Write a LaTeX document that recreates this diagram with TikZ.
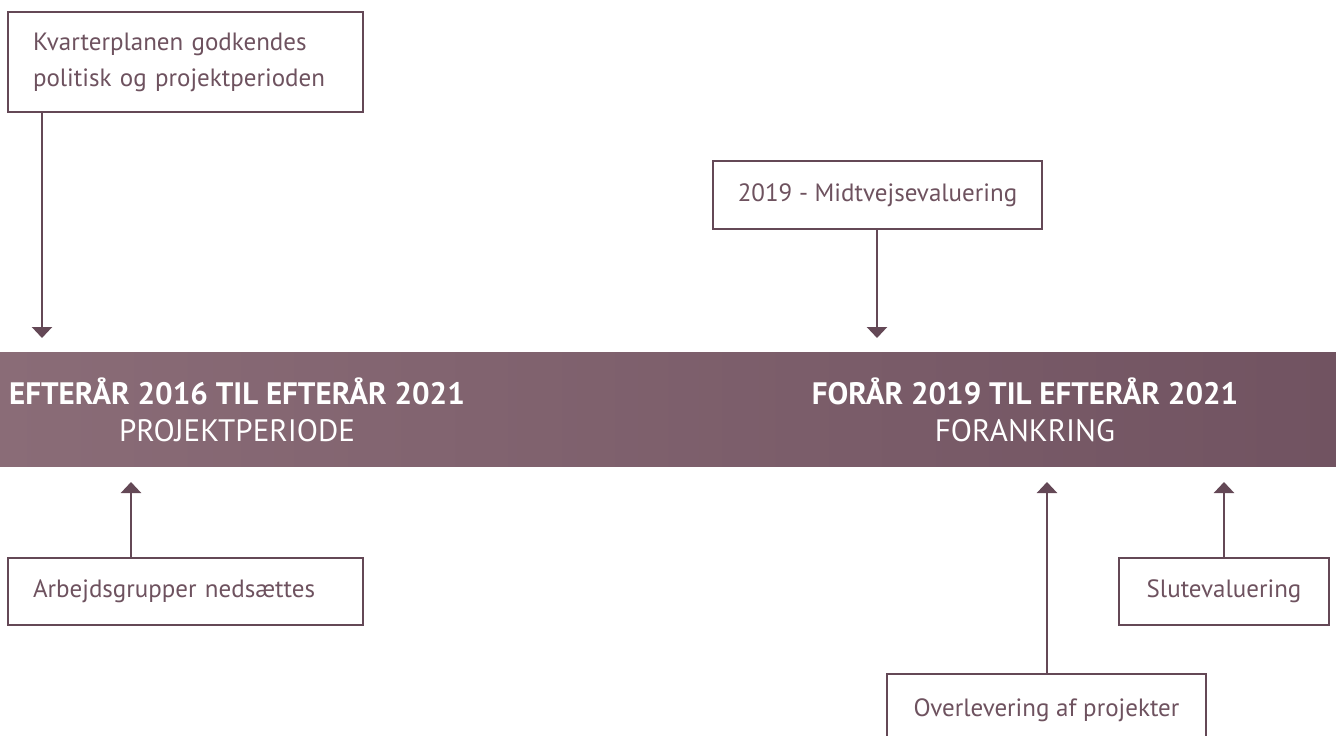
\documentclass[tikz,border=0pt]{standalone}
\usepackage{fontspec}
\setmainfont{PT Sans}
\usetikzlibrary{arrows.meta}
\definecolor{mauve}{RGB}{100,72,86}
\definecolor{txt}{RGB}{110,82,95}
\definecolor{bandL}{RGB}{138,108,119}
\definecolor{bandR}{RGB}{113,83,97}
\tikzset{
  box/.style={draw=mauve, line width=1.6pt, fill=white, inner sep=0pt, font=\fontsize{25}{36}\selectfont, text=txt},
  arr/.style={draw=mauve, line width=2.4pt, -{Triangle[width=20pt,length=11pt]}},
  bold/.style={font=\fontsize{31}{33}\selectfont\bfseries, text=white, inner sep=0pt},
  reg/.style={font=\fontsize{31}{33}\selectfont, text=white, inner sep=0pt}
}
\begin{document}
\begin{tikzpicture}[x=1pt,y=-1pt]
\useasboundingbox (0,0) rectangle (1336,736);
\clip (0,0) rectangle (1336,736);
% band
\node[rectangle, minimum width=1336pt, minimum height=114pt, inner sep=0pt, left color=bandL, right color=bandR, draw=none] (band) at (668,409) {};
\node[bold] (t1) at (237,391) {EFTERÅR 2016 TIL EFTERÅR 2021};
\node[reg] (s1) at (237,431) {PROJEKTPERIODE};
\node[bold] (t2) at (1025,391) {FORÅR 2019 TIL EFTERÅR 2021};
\node[reg] (s2) at (1025,431) {FORANKRING};
% boxes
\node[box, minimum width=355pt, minimum height=100pt, text width=305pt, align=left] (kv) at (185.5,62) {Kvarterplanen godkendes\\politisk og projektperioden};
\node[box, minimum width=329pt, minimum height=68pt, align=center] (mid) at (877.5,195) {2019 - Midtvejsevaluering};
\node[box, minimum width=355pt, minimum height=67pt, text width=305pt, align=left] (arb) at (185.5,591.5) {Arbejdsgrupper nedsættes};
\node[box, minimum width=210pt, minimum height=67pt, align=center] (slut) at (1224,591.5) {Slutevaluering};
\node[box, minimum width=319pt, minimum height=72pt, align=center] (ov) at (1046.5,710) {Overlevering af projekter};
% arrow tips
\coordinate (a1) at (42,338);
\coordinate (a2) at (877,338);
\coordinate (a3) at (131,482);
\coordinate (a4) at (1047,482);
\coordinate (a5) at (1224,482);
\draw[arr] (kv.south -| a1) -- (a1);
\draw[arr] (mid.south -| a2) -- (a2);
\draw[arr] (arb.north -| a3) -- (a3);
\draw[arr] (ov.north -| a4) -- (a4);
\draw[arr] (slut.north -| a5) -- (a5);
\end{tikzpicture}
\end{document}
